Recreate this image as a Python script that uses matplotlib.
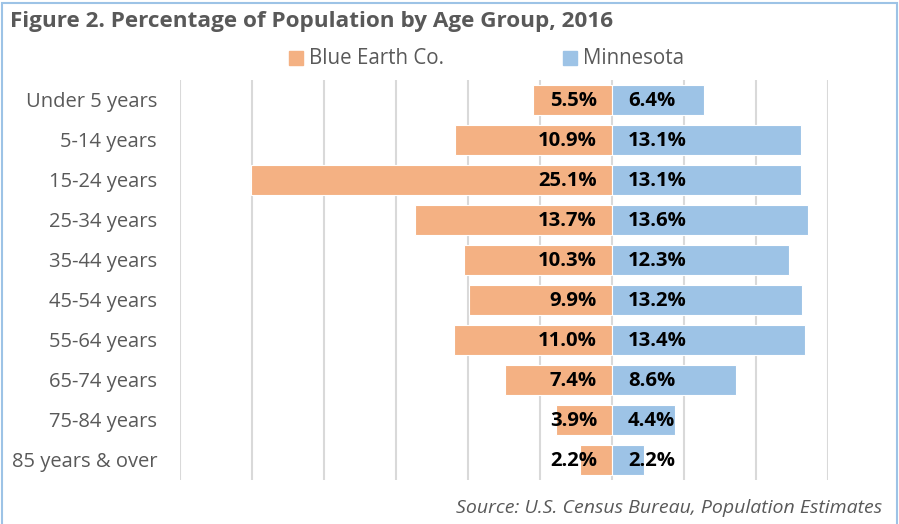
import numpy as np
import matplotlib.pyplot as plt
from matplotlib.patches import Rectangle

plt.rcParams['font.family'] = ['Open Sans', 'DejaVu Sans']

age_groups = ['Under 5 years', '5-14 years', '15-24 years', '25-34 years', '35-44 years',
              '45-54 years', '55-64 years', '65-74 years', '75-84 years', '85 years & over']
blue_earth = [5.5, 10.9, 25.1, 13.7, 10.3, 9.9, 11.0, 7.4, 3.9, 2.2]
minnesota = [6.4, 13.1, 13.1, 13.6, 12.3, 13.2, 13.4, 8.6, 4.4, 2.2]

ORANGE = '#F4B183'
BLUE = '#9DC3E6'
GRAY = '#595959'

W, H = 899, 524
fig = plt.figure(figsize=(W / 100, H / 100), dpi=100)
ax = fig.add_axes([180 / W, 1 - 480 / H, (828 - 180) / W, 400 / H])

y = np.arange(len(age_groups))
ax.barh(y, [-v for v in blue_earth], height=0.74, color=ORANGE, edgecolor='white', linewidth=0.8, zorder=2)
ax.barh(y, minnesota, height=0.74, color=BLUE, edgecolor='white', linewidth=0.8, zorder=2)

# data labels sit at the inner base of each bar
for yi, v in zip(y, blue_earth):
    ax.annotate(f'{v:.1f}%', (0, yi), xytext=(-15, -1), textcoords='offset pixels',
                ha='right', va='center', fontsize=14.6, fontweight='bold', color='black', zorder=3)
for yi, v in zip(y, minnesota):
    ax.annotate(f'{v:.1f}%', (0, yi), xytext=(16, -1), textcoords='offset pixels',
                ha='left', va='center', fontsize=14.6, fontweight='bold', color='black', zorder=3)

ax.set_xlim(-30, 15)
ax.set_ylim(len(age_groups) - 0.5, -0.5)
ax.set_xticks(np.arange(-30, 16, 5))
ax.set_xticklabels([])
ax.tick_params(axis='x', length=0)
ax.set_yticks(y)
ax.set_yticklabels(age_groups, fontsize=14.5, color=GRAY)
ax.tick_params(axis='y', length=0, pad=16.5)
ax.grid(axis='x', color='#D9D9D9', linewidth=1.5, zorder=0)
ax.set_axisbelow(True)
for s in ax.spines.values():
    s.set_visible(False)

fig.text(10 / W, 1 - 21 / H, 'Figure 2. Percentage of Population by Age Group, 2016',
         fontsize=16.2, fontweight='bold', color=GRAY, ha='left', va='center')

# legend
fig.patches.append(Rectangle((289 / W, 1 - 65 / H), 14 / W, 14 / H, transform=fig.transFigure,
                             color=ORANGE))
fig.text(309 / W, 1 - 58 / H, 'Blue Earth Co.', fontsize=14.8, color=GRAY, ha='left', va='center')
fig.patches.append(Rectangle((563 / W, 1 - 65 / H), 14 / W, 14 / H, transform=fig.transFigure,
                             color=BLUE))
fig.text(583 / W, 1 - 58 / H, 'Minnesota', fontsize=14.8, color=GRAY, ha='left', va='center')

fig.text(882 / W, 1 - 508 / H, 'Source: U.S. Census Bureau, Population Estimates',
         fontsize=14, style='italic', color=GRAY, ha='right', va='center')

# border
fig.patches.append(Rectangle((1.5 / W, -0.01), (897 - 1.5) / W, 1 - 2.5 / H + 0.01,
                             transform=fig.transFigure, fill=False, edgecolor='#9DC3E6', linewidth=1.5))

fig.savefig('out.png', dpi=100)
